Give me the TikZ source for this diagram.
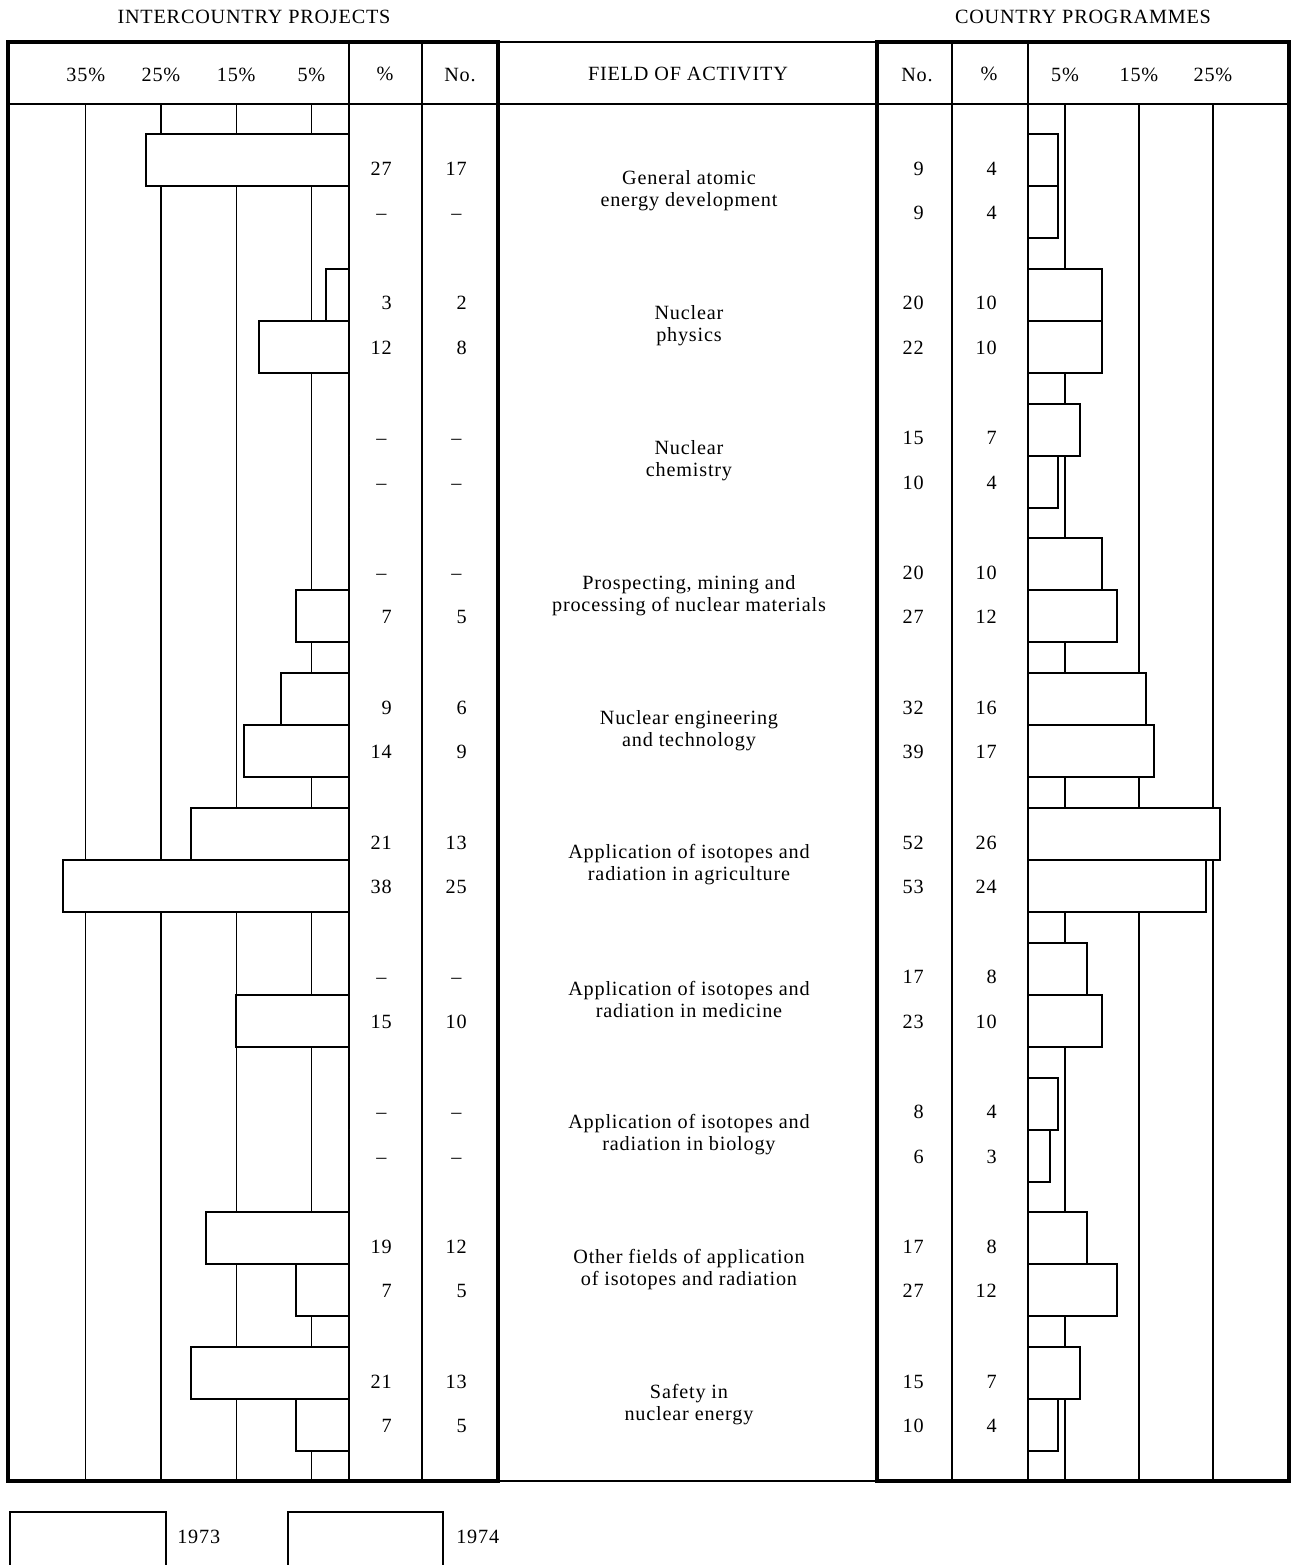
\documentclass[tikz,border=0pt]{standalone}
\usepackage{fontspec}
\setmainfont{Liberation Serif}[LetterSpace=4]
\usetikzlibrary{positioning}
\newcommand{\nd}{--\kern3pt}
\newcommand{\lsc}{7.52}
\newcommand{\rsc}{7.4}

\begin{document}
\begin{tikzpicture}[x=0.02cm,y=-0.02cm]
\tikzstyle{txt}=[inner sep=0pt, font=\fontsize{11.5}{12.5}\selectfont]
\tikzstyle{num}=[txt, anchor=base east]
\tikzstyle{head}=[txt, anchor=base]
\tikzstyle{field}=[txt, align=center]
\tikzstyle{thin}=[line width=0.6pt]
\tikzstyle{frame}=[line width=2.5pt]
\tikzstyle{bar}=[line width=1.1pt, fill=white]

\useasboundingbox (0,0) rectangle (1294,1565);

  \node[head] (inter)   at (254,23)  {INTERCOUNTRY PROJECTS};
  \node[head] (country) at (1083,23) {COUNTRY PROGRAMMES};

  % rules
  \draw[thin] (8,104) -- (1290,104);
  \draw[thin] (498,42) -- (877,42);
  \draw[thin] (498,1481) -- (877,1481);
  \foreach \x in {349,422,952,1028}
    \draw[thin] (\x,42) -- (\x,1481);
  \foreach \p in {5,15,25,35} {
    \draw[thin] ({349-\lsc*\p},104) -- ({349-\lsc*\p},1481);
    \node[head] (lh\p) at ({349-\lsc*\p},81) {\p\%};
  }
  \foreach \p in {5,15,25} {
    \draw[thin] ({1028+\rsc*\p},104) -- ({1028+\rsc*\p},1481);
    \node[head] (rh\p) at ({1028+\rsc*\p},81) {\p\%};
  }

  \node[head] (lpct)  at (385,80) {\%};
  \node[head] (lno)   at (460,81) {No.};
  \node[head] (field) at (688,80) {FIELD OF ACTIVITY};
  \node[head] (rno)   at (917,81) {No.};
  \node[head] (rpct)  at (989,80) {\%};

  % intercountry projects
  \foreach \ba/\bb/\pa/\na/\pb/\nb [count=\i from 0] in {
      27/0/27/17/\nd/\nd,
      3/12/3/2/12/8,
      0/0/\nd/\nd/\nd/\nd,
      0/7/\nd/\nd/7/5,
      9/14/9/6/14/9,
      21/38/21/13/38/25,
      0/15/\nd/\nd/15/10,
      0/0/\nd/\nd/\nd/\nd,
      19/7/19/12/7/5,
      21/7/21/13/7/5} {
    \pgfmathsetmacro{\t}{134+134.8*\i}
    \draw[bar] (349,\t) rectangle ({349-\lsc*\ba},{\t+52});
    \draw[bar] (349,{\t+52}) rectangle ({349-\lsc*\bb},{\t+104});
    \node[num] (lpa\i) at (392,{\t+41})   {\pa};
    \node[num] (lna\i) at (467,{\t+41})   {\na};
    \node[num] (lpb\i) at (392,{\t+85.5}) {\pb};
    \node[num] (lnb\i) at (467,{\t+85.5}) {\nb};
  }

  % country programmes
  \foreach \na/\pa/\nb/\pb [count=\i from 0] in {
      9/4/9/4,
      20/10/22/10,
      15/7/10/4,
      20/10/27/12,
      32/16/39/17,
      52/26/53/24,
      17/8/23/10,
      8/4/6/3,
      17/8/27/12,
      15/7/10/4} {
    \pgfmathsetmacro{\t}{134+134.8*\i}
    \draw[bar] (1028,\t) rectangle ({1028+\rsc*\pa},{\t+52});
    \draw[bar] (1028,{\t+52}) rectangle ({1028+\rsc*\pb},{\t+104});
    \node[num] (rna\i) at (924,{\t+41})   {\na};
    \node[num] (rpa\i) at (997,{\t+41})   {\pa};
    \node[num] (rnb\i) at (924,{\t+85.5}) {\nb};
    \node[num] (rpb\i) at (997,{\t+85.5}) {\pb};
  }

  % fields
  \foreach \lbl [count=\i from 0] in {
      {General atomic\\energy development},
      {Nuclear\\physics},
      {Nuclear\\chemistry},
      {Prospecting, mining and\\processing of nuclear materials},
      {Nuclear engineering\\and technology},
      {Application of isotopes and\\radiation in agriculture},
      {Application of isotopes and\\radiation in medicine},
      {Application of isotopes and\\radiation in biology},
      {Other fields of application\\of isotopes and radiation},
      {Safety in\\nuclear energy}} {
    \pgfmathsetmacro{\t}{134+134.8*\i}
    \node[field] (f\i) at (689,{\t+57}) {\lbl};
  }

  \draw[frame] (8,42) rectangle (498,1481);
  \draw[frame] (877,42) rectangle (1289,1481);

  % key
  \draw[bar] (10,1565) -- (10,1512) -- (166,1512) -- (166,1565);
  \draw[bar] (288,1565) -- (288,1512) -- (443,1512) -- (443,1565);
  \node[txt, anchor=base west] (k73) at (177,1543) {1973};
  \node[txt, anchor=base west] (k74) at (456,1543) {1974};

\end{tikzpicture}
\end{document}
